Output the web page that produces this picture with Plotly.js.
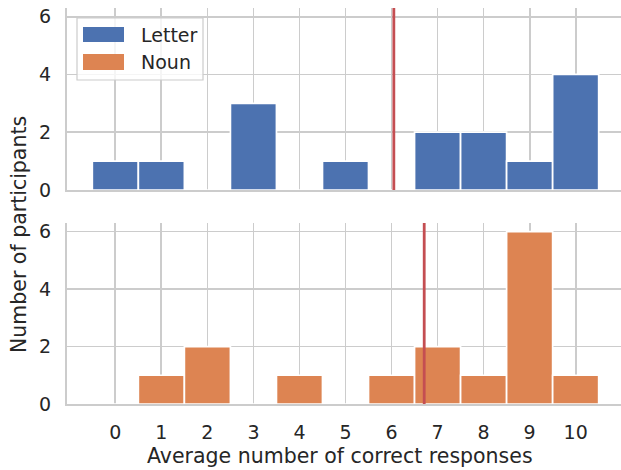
<!DOCTYPE html>
<html><head><meta charset="utf-8">
<script src="https://cdn.plot.ly/plotly-3.0.1.min.js"></script>
<style>html,body{margin:0;padding:0;background:#fff;overflow:hidden}</style>
</head><body><div id="chart" style="width:621px;height:470px"></div>
<script>
// ---- data ----
const responses = [0, 1, 2, 3, 4, 5, 6, 7, 8, 9, 10];
const letterCounts = [1, 1, 0, 3, 0, 1, 0, 2, 2, 1, 4];
const nounCounts   = [0, 1, 2, 0, 1, 0, 1, 2, 1, 6, 1];
const letterMean = 6.05;
const nounMean = 6.71;
const yTicks = [0, 2, 4, 6];
const seriesNames = ['Letter', 'Noun'];
const xTitle = 'Average number of correct responses';
const yTitle = 'Number of participants';

// ---- style ----
const BLUE = '#4C72B0', ORANGE = '#DD8452', RED = '#C44E52';
const GRID = '#cccccc', TEXT = '#262626';
const FONT = 'DejaVu Sans, sans-serif';
const TICK = 19, LABEL = 20.5;
const W = 621, H = 470, ML = 67, MR = 0, MT = 8, MB = 66;
const PW = W - ML - MR, PH = H - MT - MB;
const fx = px => (px - ML) / PW;
const fy = py => (H - MB - py) / PH;

const barStyle = c => ({color: c, line: {color: '#ffffff', width: 1.7}});
const traces = [
  {type: 'bar', x: responses, y: letterCounts, width: 1, name: seriesNames[0],
   marker: barStyle(BLUE), xaxis: 'x', yaxis: 'y', showlegend: false, hoverinfo: 'x+y'},
  {type: 'bar', x: responses, y: nounCounts, width: 1, name: seriesNames[1],
   marker: barStyle(ORANGE), xaxis: 'x2', yaxis: 'y2', showlegend: false, hoverinfo: 'x+y'}
];

const xCommon = {
  range: [-1.05, 10.985], tickvals: responses, showgrid: true, gridcolor: GRID, gridwidth: 1.75,
  showline: true, linecolor: GRID, linewidth: 2.2, zeroline: false, ticks: '',
  tickfont: {family: FONT, size: TICK, color: TEXT}, domain: [0, 1], fixedrange: true
};
const yCommon = {
  range: [0, 6.3], tickvals: yTicks, showgrid: true, gridcolor: GRID, gridwidth: 1.75,
  showline: true, linecolor: GRID, linewidth: 2.2, zeroline: false, ticks: '',
  ticklabelstandoff: 10,
  tickfont: {family: FONT, size: TICK, color: TEXT}, fixedrange: true
};

const layout = {
  width: W, height: H,
  margin: {l: ML, r: MR, t: MT, b: MB, pad: 0},
  paper_bgcolor: '#ffffff', plot_bgcolor: '#ffffff',
  bargap: 0, showlegend: false,
  font: {family: FONT, color: TEXT},
  xaxis: Object.assign({}, xCommon, {anchor: 'y', showticklabels: false, matches: 'x2'}),
  yaxis: Object.assign({}, yCommon, {anchor: 'x', domain: [fy(190), 1]}),
  xaxis2: Object.assign({}, xCommon, {anchor: 'y2', ticklabelstandoff: 10}),
  yaxis2: Object.assign({}, yCommon, {anchor: 'x2', domain: [0, fy(223)]}),
  shapes: [
    {type: 'line', xref: 'x', yref: 'y domain', x0: letterMean, x1: letterMean, y0: 0, y1: 1,
     line: {color: RED, width: 2.8}},
    {type: 'line', xref: 'x2', yref: 'y2 domain', x0: nounMean, x1: nounMean, y0: 0, y1: 1,
     line: {color: RED, width: 2.8}},
    // legend frame and patches
    {type: 'rect', xref: 'paper', yref: 'paper', x0: fx(77), x1: fx(203), y0: fy(80), y1: fy(18),
     fillcolor: 'rgba(255,255,255,0.8)', line: {color: GRID, width: 1.2}},
    {type: 'rect', xref: 'paper', yref: 'paper', x0: fx(83), x1: fx(124), y0: fy(42), y1: fy(27),
     fillcolor: BLUE, line: {width: 0}},
    {type: 'rect', xref: 'paper', yref: 'paper', x0: fx(83), x1: fx(124), y0: fy(70), y1: fy(54),
     fillcolor: ORANGE, line: {width: 0}}
  ],
  annotations: [
    {xref: 'paper', yref: 'paper', x: fx(139), y: fy(34.5), xanchor: 'left', yanchor: 'middle',
     text: seriesNames[0], showarrow: false, font: {family: FONT, size: TICK, color: TEXT}},
    {xref: 'paper', yref: 'paper', x: fx(139), y: fy(62), xanchor: 'left', yanchor: 'middle',
     text: seriesNames[1], showarrow: false, font: {family: FONT, size: TICK, color: TEXT}},
    {xref: 'paper', yref: 'paper', x: fx(340), y: fy(456), xanchor: 'center', yanchor: 'middle',
     text: xTitle, showarrow: false, font: {family: FONT, size: LABEL, color: TEXT}},
    {xref: 'paper', yref: 'paper', x: fx(19), y: fy(235), xanchor: 'center', yanchor: 'middle',
     text: yTitle, textangle: -90, showarrow: false, font: {family: FONT, size: LABEL, color: TEXT}}
  ]
};

Plotly.newPlot('chart', traces, layout, {displayModeBar: false, staticPlot: true});
</script>
</body></html>
